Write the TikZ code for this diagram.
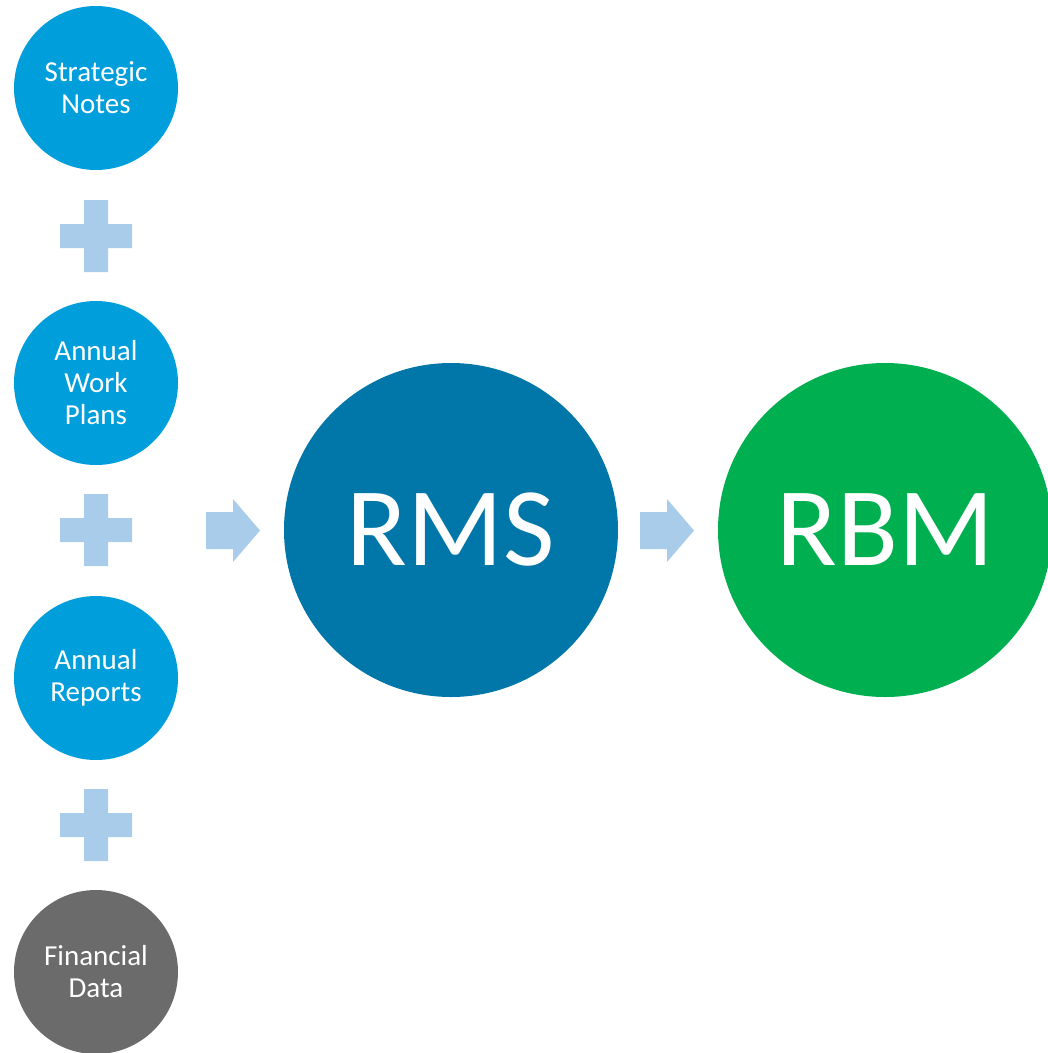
\documentclass[tikz,border=0pt]{standalone}
\usepackage{fontspec}
\setmainfont{Carlito}
\definecolor{cblue}{RGB}{0,158,219}
\definecolor{cdark}{RGB}{0,119,168}
\definecolor{cgreen}{RGB}{0,176,80}
\definecolor{cgray}{RGB}{107,107,107}
\definecolor{clight}{RGB}{169,204,234}
\tikzset{
  small/.style={circle,fill=#1,minimum size=164pt,inner sep=0pt,text=white,align=center,
    font=\fontsize{29}{32}\selectfont},
  big/.style={circle,fill=#1,minimum size=334pt,inner sep=0pt,text=white,
    font=\fontsize{112}{120}\selectfont},
  plussign/.style={fill=clight},
  blockarrow/.style={fill=clight}
}
\begin{document}
\begin{tikzpicture}[x=1pt,y=-1pt]
\clip (0,0) rectangle (1048,1053);
\node[small=cblue] (sn) at (96,88) {Strategic\\Notes};
\node[small=cblue] (awp) at (96,383) {Annual\\Work\\Plans};
\node[small=cblue] (ar) at (96,678) {Annual\\Reports};
\node[small=cgray] (fd) at (96,972) {Financial\\Data};
\node[big=cdark] (rms) at (451,530) {RMS};
\node[big=cgreen] (rbm) at (885,530) {RBM};
% plus signs
\foreach \y in {236,530,825}{
  \fill[plussign] (84,\y-36) -- (108,\y-36) -- (108,\y-12) -- (132,\y-12) -- (132,\y+12)
    -- (108,\y+12) -- (108,\y+36) -- (84,\y+36) -- (84,\y+12) -- (60,\y+12) -- (60,\y-12)
    -- (84,\y-12) -- cycle;
}
% arrows
\foreach \x in {206,640}{
  \fill[blockarrow] (\x,512) -- (\x+27,512) -- (\x+27,499) -- (\x+54,530.5) -- (\x+27,562)
    -- (\x+27,549) -- (\x,549) -- cycle;
}
\end{tikzpicture}
\end{document}
